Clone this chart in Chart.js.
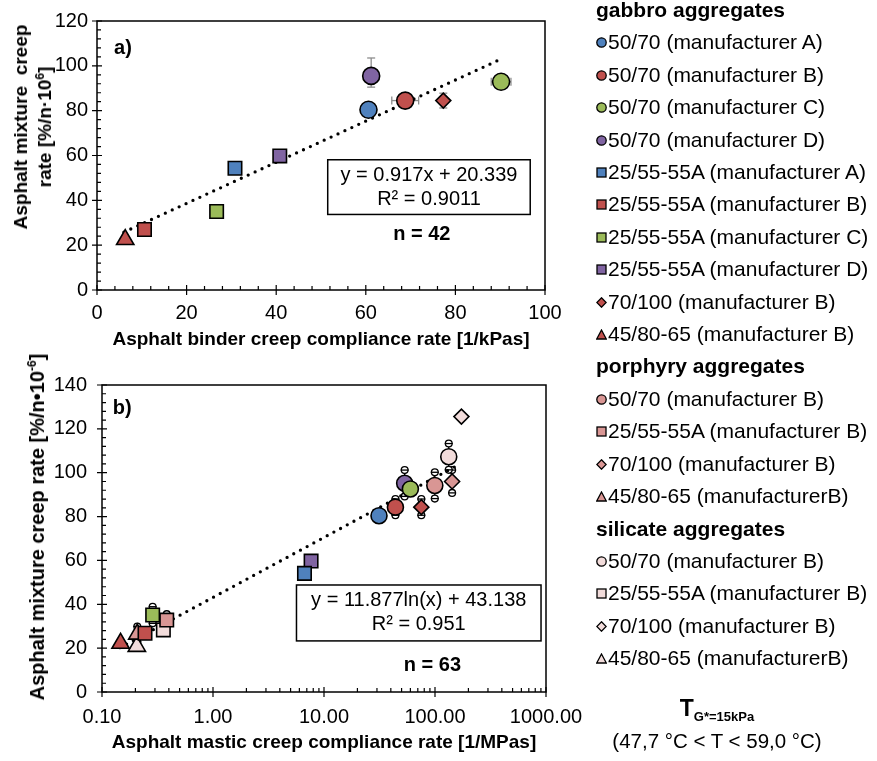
<!DOCTYPE html>
<html>
<head>
 <meta charset="utf-8">
 <title>Asphalt creep rate correlations</title>
 <script src="https://cdn.jsdelivr.net/npm/chart.js@4.4.1/dist/chart.umd.min.js"></script>
 <style>
  body { margin: 0; width: 877px; height: 761px; position: relative; overflow: hidden; background: #fff;
         font-family: 'Liberation Sans', Arial, sans-serif; color: #000; }
  #boxA { position: absolute; left: 0; top: 0; width: 580px; height: 355px; }
  #boxB { position: absolute; left: 0; top: 355px; width: 600px; height: 406px; }
  .ytitle { position: absolute; font-weight: bold; font-size: 19px; line-height: 24px; text-align: center;
            white-space: nowrap; transform: translate(-50%, -50%) rotate(-90deg); }
  .ytitle sup { font-size: 12px; line-height: 0; }
  #legend { position: absolute; left: 596px; top: -6px; font-size: 21px; line-height: 32.4px; white-space: nowrap; }
  #legend .head { font-weight: bold; }
  #legend svg { vertical-align: 1px; margin-right: 1px; }
  #temp { position: absolute; left: 587px; width: 260px; top: 696px; text-align: center; font-size: 20.5px; line-height: 24px; }
  #temp b { font-size: 23px; }
  #temp sub { font-size: 13px; font-weight: bold; }
 </style>
</head>
<body>

 <div id="boxA"><canvas id="chartA"></canvas></div>
 <div id="boxB"><canvas id="chartB"></canvas></div>
 <div class="ytitle" style="left:33px; top:127px;">Asphalt mixture&nbsp; creep<br>rate [%/n·10<sup>6</sup>]</div>
 <div class="ytitle" style="left:37px; top:527px; font-size:20px;">Asphalt mixture creep rate [%/n•10<sup>-6</sup>]</div>
 <div id="legend"></div>
 <div id="temp"><b>T</b><sub>G*=15kPa</sub><br>(47,7 °C &lt; T &lt; 59,0 °C)</div>

<script>
 // ---- series (legend order) ----
 var groupNames = ['gabbro aggregates', 'porphyry aggregates', 'silicate aggregates'];
 var seriesNames = ['50/70 (manufacturer A)', '50/70 (manufacturer B)', '50/70 (manufacturer C)', '50/70 (manufacturer D)',
                    '25/55-55A (manufacturer A)', '25/55-55A (manufacturer B)', '25/55-55A (manufacturer C)', '25/55-55A (manufacturer D)',
                    '70/100 (manufacturer B)', '45/80-65 (manufacturer B)',
                    '50/70 (manufacturer B)', '25/55-55A (manufacturer B)', '70/100 (manufacturer B)', '45/80-65 (manufacturerB)',
                    '50/70 (manufacturer B)', '25/55-55A (manufacturer B)', '70/100 (manufacturer B)', '45/80-65 (manufacturerB)'];
 var seriesGroup = [0, 0, 0, 0, 0, 0, 0, 0, 0, 0, 1, 1, 1, 1, 2, 2, 2, 2];
 var seriesColor = ['#4F81BD', '#C0504D', '#9BBB59', '#8064A2', '#4F81BD', '#C0504D', '#9BBB59', '#8064A2', '#C0504D', '#C0504D',
                    '#D99694', '#D99694', '#D99694', '#D99694', '#F2DCDB', '#F2DCDB', '#F2DCDB', '#F2DCDB'];
 var seriesShape = ['circle', 'circle', 'circle', 'circle', 'rect', 'rect', 'rect', 'rect', 'rectRot', 'triangle',
                    'circle', 'rect', 'rectRot', 'triangle', 'circle', 'rect', 'rectRot', 'triangle'];

 // ---- a) binder vs mixture (gabbro series only) ----
 var binderRate = [60.6, 68.8, 90.2, 61.2, 30.8, 10.6, 26.7, 40.8, 77.3, 6.3];
 var mixRateA   = [80.4, 84.5, 92.9, 95.5, 54.3, 27.0, 35.0, 59.8, 84.5, 22.5];
 var binderErr  = [0, 3.0, 2.2, 0, 0, 0, 0, 0, 0, 0];
 var mixErrA    = [[0, 0], [0, 0], [0, 0], [5, 8], [0, 0], [0, 0], [0, 0], [0, 0], [3.3, 3.3], [0, 0]];
 var trendA     = [{x: 6, y: 25.8}, {x: 89.5, y: 102.4}];

 // ---- b) mastic vs mixture (all series) ----
 var masticRate = [31.3, 44, 60, 53.3, 6.67, 0.244, 0.286, 7.65, 75.3, 0.147, 99.6, 0.383, 142.6, 0.208, 133, 0.357, 173, 0.206];
 var mixRateB   = [80.4, 84.3, 92.6, 95.2, 54.1, 26.8, 35.1, 59.7, 84.3, 22.2, 94.2, 32.8, 96.0, 26.4, 107.3, 28.3, 125.6, 20.8];
 var mixErrB    = [0, 3.7, 0, 6, 0, 0, 3.8, 0, 3.7, 0, 6, 2.7, 5.2, 3.5, 6, 0, 0, 0];
 var trendB     = [{x: 0.145, y: 20.2}, {x: 168, y: 104.0}];

 var FONT = "'Liberation Sans', Arial, sans-serif";
 Chart.defaults.font.family = FONT;
 Chart.defaults.color = '#000';

 var radiusA = {circle: 8.5, rect: 9.5, rectRot: 7.5, triangle: 10};
 var radiusB = {circle: 8, rect: 9.5, rectRot: 7.5, triangle: 10};

 // frame round the plot area plus major (crossing) and minor (inside) ticks
 var frameTicks = {
  id: 'frameTicks',
  afterDraw: function(chart, args, opts) {
   var ctx = chart.ctx, a = chart.chartArea, x = chart.scales.x, y = chart.scales.y;
   ctx.save();
   ctx.strokeStyle = '#000';
   ctx.lineWidth = 1.5;
   ctx.strokeRect(a.left, a.top, a.right - a.left, a.bottom - a.top);
   ctx.lineWidth = 1.2;
   ctx.beginPath();
   x.ticks.forEach(function(t) { var p = x.getPixelForValue(t.value); ctx.moveTo(p, a.bottom - 5); ctx.lineTo(p, a.bottom + 5); });
   y.ticks.forEach(function(t) { var p = y.getPixelForValue(t.value); ctx.moveTo(a.left - 5, p); ctx.lineTo(a.left + 5, p); });
   opts.xMinor.forEach(function(v) { var p = x.getPixelForValue(v); ctx.moveTo(p, a.bottom); ctx.lineTo(p, a.bottom - 4); });
   opts.yMinor.forEach(function(v) { var p = y.getPixelForValue(v); ctx.moveTo(a.left, p); ctx.lineTo(a.left + 4, p); });
   ctx.stroke();
   ctx.restore();
  }
 };

 // error bars, grey bar caps (a) or small ring caps (b)
 var errBars = {
  id: 'errBars',
  beforeDatasetsDraw: function(chart, args, opts) {
   var ctx = chart.ctx, x = chart.scales.x, y = chart.scales.y;
   function cap(px, py, horiz) {
    ctx.beginPath();
    if (opts.ring) {
     ctx.arc(px, py, 3.4, 0, Math.PI * 2);
     ctx.fillStyle = '#fff'; ctx.fill(); ctx.stroke();
     ctx.beginPath();
    }
    if (horiz) { ctx.moveTo(px - 4, py); ctx.lineTo(px + 4, py); }
    else { ctx.moveTo(px, py - 4); ctx.lineTo(px, py + 4); }
    ctx.stroke();
   }
   ctx.save();
   ctx.strokeStyle = opts.color;
   ctx.lineWidth = 1.3;
   chart.data.datasets.forEach(function(ds) {
    if (!ds.errX && !ds.errY) return;
    var p = ds.data[0], px = x.getPixelForValue(p.x), py = y.getPixelForValue(p.y);
    if (ds.errY) {
     var y1 = y.getPixelForValue(p.y - ds.errY[0]), y2 = y.getPixelForValue(p.y + ds.errY[1]);
     ctx.beginPath(); ctx.moveTo(px, y1); ctx.lineTo(px, y2); ctx.stroke();
     cap(px, y1, true); cap(px, y2, true);
    }
    if (ds.errX) {
     var x1 = x.getPixelForValue(p.x - ds.errX), x2 = x.getPixelForValue(p.x + ds.errX);
     ctx.beginPath(); ctx.moveTo(x1, py); ctx.lineTo(x2, py); ctx.stroke();
     cap(x1, py, false); cap(x2, py, false);
    }
   });
   ctx.restore();
  }
 };

 // panel letter, trendline equation box and sample count
 var notes = {
  id: 'notes',
  afterDatasetsDraw: function(chart, args, o) {
   var ctx = chart.ctx, x = chart.scales.x, y = chart.scales.y;
   ctx.save();
   ctx.textAlign = 'center';
   ctx.textBaseline = 'middle';
   ctx.fillStyle = '#000';
   ctx.font = 'bold 20px ' + FONT;
   ctx.fillText(o.panel.text, x.getPixelForValue(o.panel.x), y.getPixelForValue(o.panel.y));
   ctx.fillText(o.count.text, x.getPixelForValue(o.count.x), y.getPixelForValue(o.count.y));
   var bx1 = x.getPixelForValue(o.box.x1), bx2 = x.getPixelForValue(o.box.x2);
   var by1 = y.getPixelForValue(o.box.y1), by2 = y.getPixelForValue(o.box.y2);
   ctx.fillStyle = '#fff';
   ctx.fillRect(bx1, by1, bx2 - bx1, by2 - by1);
   ctx.strokeStyle = '#000';
   ctx.lineWidth = 1.5;
   ctx.strokeRect(bx1, by1, bx2 - bx1, by2 - by1);
   ctx.fillStyle = '#000';
   ctx.font = '20px ' + FONT;
   var cy = (by1 + by2) / 2;
   ctx.fillText(o.box.lines[0], (bx1 + bx2) / 2, cy - 12);
   ctx.fillText(o.box.lines[1], (bx1 + bx2) / 2, cy + 12);
   ctx.restore();
  }
 };

 function seriesSet(i, xv, yv, radius) {
  return { label: seriesNames[i], data: [{x: xv, y: yv}],
           pointStyle: seriesShape[i], pointRadius: radius[seriesShape[i]],
           backgroundColor: seriesColor[i], borderColor: '#000', pointBorderWidth: 1.6 };
 }
 function trendSet(pts) {
  return { type: 'scatter', data: pts, showLine: true, pointRadius: 0, borderColor: '#000',
           borderWidth: 3.3, borderDash: [0, 7.6], borderCapStyle: 'round', fill: false };
 }
 function minorSteps(from, to, step) {
  var out = [];
  for (var v = from; v < to - 1e-9; v += step) out.push(+v.toFixed(6));
  return out;
 }
 function tickFont() { return { size: 20, family: FONT }; }
 function titleFont() { return { size: 19, weight: 'bold', family: FONT }; }

 // ---- chart a ----
 var dataA = [];
 for (var i = 0; i < binderRate.length; i++) {
  var dsA = seriesSet(i, binderRate[i], mixRateA[i], radiusA);
  if (binderErr[i]) dsA.errX = binderErr[i];
  if (mixErrA[i][0] || mixErrA[i][1]) dsA.errY = mixErrA[i];
  dataA.push(dsA);
 }
 dataA.push(trendSet(trendA));

 new Chart(document.getElementById('chartA'), {
  type: 'scatter',
  data: { datasets: dataA },
  options: {
   responsive: true, maintainAspectRatio: false, animation: false,
   layout: { padding: { top: 13, right: 35, left: 0, bottom: 0 } },
   plugins: {
    legend: { display: false }, tooltip: { enabled: false },
    frameTicks: { xMinor: minorSteps(0, 100, 4), yMinor: minorSteps(0, 120, 4) },
    errBars: { color: '#8c8c8c', ring: false },
    notes: { panel: { text: 'a)', x: 5.8, y: 107.6 },
             box: { x1: 51.5, x2: 96.7, y1: 58.1, y2: 33.7, lines: ['y = 0.917x + 20.339', 'R² = 0.9011'] },
             count: { text: 'n = 42', x: 72.5, y: 24.6 } }
   },
   scales: {
    x: { type: 'linear', min: 0, max: 100,
         ticks: { stepSize: 20, font: tickFont(), color: '#000', padding: 11, maxRotation: 0 },
         grid: { display: false, drawTicks: false }, border: { display: false },
         title: { display: true, text: 'Asphalt binder creep compliance rate [1/kPas]', font: titleFont(), color: '#000', padding: { top: 0, bottom: 4 } },
         afterFit: function(s) { s.height = 65; } },
    y: { min: 0, max: 120,
         ticks: { stepSize: 20, font: tickFont(), color: '#000', padding: 9 },
         grid: { display: false, drawTicks: false }, border: { display: false },
         afterFit: function(s) { s.width = 97; } }
   }
  },
  plugins: [errBars, frameTicks, notes]
 });

 // ---- chart b ----
 var dataB = [];
 for (var j = 0; j < masticRate.length; j++) {
  var dsB = seriesSet(j, masticRate[j], mixRateB[j], radiusB);
  if (mixErrB[j]) dsB.errY = [mixErrB[j], mixErrB[j]];
  dataB.push(dsB);
 }
 dataB.push(trendSet(trendB));

 var logMinor = [];
 [0.1, 1, 10, 100].forEach(function(d) { for (var k = 2; k <= 9; k++) logMinor.push(d * k); });

 new Chart(document.getElementById('chartB'), {
  type: 'scatter',
  data: { datasets: dataB },
  options: {
   responsive: true, maintainAspectRatio: false, animation: false,
   layout: { padding: { top: 30, right: 54, left: 0, bottom: 0 } },
   plugins: {
    legend: { display: false }, tooltip: { enabled: false },
    frameTicks: { xMinor: logMinor, yMinor: minorSteps(0, 140, 4) },
    errBars: { color: '#000', ring: true },
    notes: { panel: { text: 'b)', x: 0.152, y: 129.5 },
             box: { x1: 5.65, x2: 902, y1: 48.8, y2: 23.3, lines: ['y = 11.877ln(x) + 43.138', 'R² = 0.951'] },
             count: { text: 'n = 63', x: 94.8, y: 12.3 } }
   },
   scales: {
    x: { type: 'logarithmic', min: 0.1, max: 1000,
         afterBuildTicks: function(s) { s.ticks = [0.1, 1, 10, 100, 1000].map(function(v) { return { value: v, major: true }; }); },
         ticks: { font: tickFont(), color: '#000', padding: 13, maxRotation: 0, autoSkip: false,
                  callback: function(v) { return Number(v).toFixed(2); } },
         grid: { display: false, drawTicks: false }, border: { display: false },
         title: { display: true, text: 'Asphalt mastic creep compliance rate [1/MPas]', font: titleFont(), color: '#000', padding: { top: 0, bottom: 7 } },
         afterFit: function(s) { s.height = 69; } },
    y: { min: 0, max: 140,
         ticks: { stepSize: 20, font: tickFont(), color: '#000', padding: 15 },
         grid: { display: false, drawTicks: false }, border: { display: false },
         afterFit: function(s) { s.width = 102; } }
   }
  },
  plugins: [errBars, frameTicks, notes]
 });

 // ---- legend (html) ----
 function markerSvg(shape, color) {
  var st = 'fill="' + color + '" stroke="#000" stroke-width="1.3"';
  var inner;
  if (shape === 'circle') inner = '<circle cx="5.5" cy="5.5" r="4.7" ' + st + '/>';
  else if (shape === 'rect') inner = '<rect x="1" y="1" width="9" height="9" ' + st + '/>';
  else if (shape === 'rectRot') inner = '<polygon points="5.5,0.8 10.2,5.5 5.5,10.2 0.8,5.5" ' + st + '/>';
  else inner = '<polygon points="5.5,1 10.3,10 0.7,10" ' + st + '/>';
  return '<svg width="11" height="11" viewBox="0 0 11 11">' + inner + '</svg>';
 }
 var html = '';
 groupNames.forEach(function(g, gi) {
  html += '<div class="head">' + g + '</div>';
  seriesNames.forEach(function(n, si) {
   if (seriesGroup[si] === gi) html += '<div>' + markerSvg(seriesShape[si], seriesColor[si]) + n + '</div>';
  });
 });
 document.getElementById('legend').innerHTML = html;
</script>

</body>
</html>
